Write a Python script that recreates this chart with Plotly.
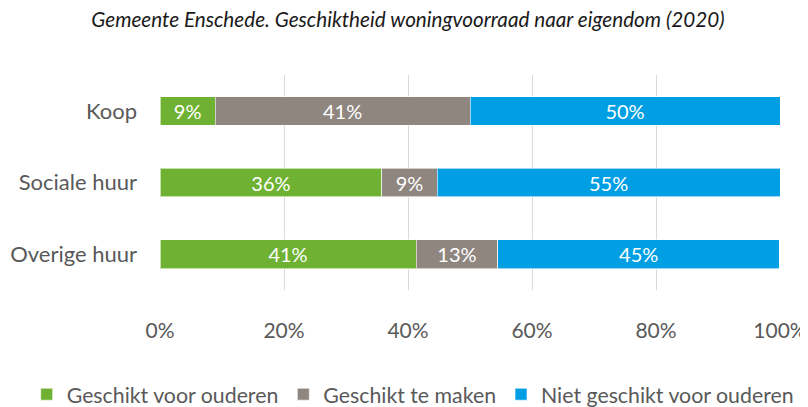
import plotly.graph_objects as go

categories = ["Koop", "Sociale huur", "Overige huur"]
series_names = ["Geschikt voor ouderen", "Geschikt te maken", "Niet geschikt voor ouderen"]
geschikt = [8.9, 35.8, 41.3]
te_maken = [41.1, 8.9, 13.2]
niet_geschikt = [50.0, 55.3, 45.4]
tick_vals = [0, 20, 40, 60, 80, 100]
tick_text = ["0%", "20%", "40%", "60%", "80%", "100%"]
colors = ["#6fb233", "#8f8680", "#009fe3"]

font_family = "Lato, 'Open Sans', sans-serif"

fig = go.Figure()
for name, vals, col in zip(series_names, [geschikt, te_maken, niet_geschikt], colors):
    fig.add_trace(go.Bar(
        y=categories, x=vals, name=name, orientation="h",
        marker=dict(color=col, line=dict(color="rgba(255,255,255,0.6)", width=1)),
        texttemplate="%{x:.0f}%", textposition="inside", insidetextanchor="middle",
        constraintext="none",
        textfont=dict(color="white", size=20, family=font_family),
        cliponaxis=False,
    ))

fig.update_layout(
    barmode="stack",
    bargap=0.6,
    width=800, height=399,
    margin=dict(l=152, r=28, t=67, b=117, autoexpand=False),
    paper_bgcolor="white", plot_bgcolor="white",
    font=dict(family=font_family, color="#595959"),
    title=dict(text="<i>Gemeente Enschede. Geschiktheid woningvoorraad naar eigendom (2020)</i>",
               x=0.5, xanchor="center", y=0.97, yanchor="middle",
               font=dict(size=20.7, color="#1a1a1a", family=font_family)),
    xaxis=dict(range=[0, 100], tickvals=tick_vals, ticktext=tick_text,
               showgrid=True, gridcolor="#d9d9d9", gridwidth=1,
               zeroline=False, showline=False, ticks="",
               tickfont=dict(size=21, color="#595959"), ticklabelstandoff=26),
    yaxis=dict(autorange="reversed", showgrid=False, zeroline=False, showline=False,
               ticks="", tickfont=dict(size=22, color="#595959"), ticklabelstandoff=22),
    legend=dict(orientation="h", x=-0.215, xanchor="left", y=-0.39, yanchor="top",
                font=dict(size=21.3, color="#595959"), traceorder="normal",
                itemwidth=30, tracegroupgap=0),
    showlegend=True,
)

fig.write_html("out.html")
